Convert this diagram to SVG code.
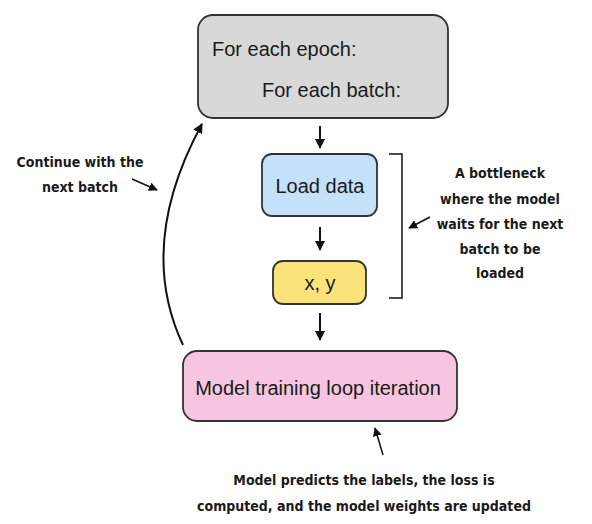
<svg xmlns="http://www.w3.org/2000/svg" width="592" height="524" viewBox="0 0 592 524">
<defs>
<style>
.box{stroke:#333333;stroke-width:1.8}
.t{font-family:"Liberation Sans",Arial,sans-serif;font-size:20px;fill:#1a1a1a}
.n{font-family:"DejaVu Sans Condensed","DejaVu Sans",sans-serif;font-weight:bold;font-size:14px;fill:#1a1a1a;text-anchor:middle}
.c{fill:none;stroke:#111;stroke-width:2}
.s{fill:none;stroke:#111;stroke-width:1.5}
</style>
<marker id="ah" viewBox="0 0 10 10" refX="9" refY="5" markerWidth="5" markerHeight="5" orient="auto" markerUnits="strokeWidth">
<path d="M0,0 L10,5 L0,10 z" fill="#111"/>
</marker>
<marker id="ahs" viewBox="0 0 10 10" refX="9" refY="5" markerWidth="6" markerHeight="6" orient="auto" markerUnits="strokeWidth">
<path d="M0,0 L10,5 L0,10 z" fill="#111"/>
</marker>
</defs>
<rect width="592" height="524" fill="#ffffff"/>
<g id="epoch">
<rect class="box" x="198" y="15" width="250" height="103" rx="15" fill="#d8d8d8"/>
<text class="t" x="212" y="56">For each epoch:</text>
<text class="t" x="262" y="97">For each batch:</text>
</g>
<g id="load">
<rect class="box" x="262" y="154" width="115" height="62" rx="10" fill="#c5e0f9"/>
<text class="t" x="320" y="193" text-anchor="middle">Load data</text>
</g>
<g id="xy">
<rect class="box" x="273" y="261" width="93" height="43" rx="10" fill="#f9e37a"/>
<text class="t" x="320" y="290" text-anchor="middle">x, y</text>
</g>
<g id="train">
<rect class="box" x="183" y="351" width="274" height="70" rx="14" fill="#f6c5e0"/>
<text class="t" x="318" y="395" text-anchor="middle">Model training loop iteration</text>
</g>
<g id="bracket">
<path class="s" d="M389,154 H402 V298 H389"/>
</g>
<g id="connectors">
<line class="c" x1="320" y1="126" x2="320" y2="148" marker-end="url(#ah)"/>
<line class="c" x1="320" y1="227" x2="320" y2="250" marker-end="url(#ah)"/>
<line class="c" x1="320" y1="313" x2="320" y2="340" marker-end="url(#ah)"/>
<path class="c" d="M183,345 Q136,245 202,124" marker-end="url(#ah)"/>
<line class="s" x1="132" y1="179" x2="157" y2="190" marker-end="url(#ahs)"/>
<line class="s" x1="430" y1="217" x2="409" y2="228" marker-end="url(#ahs)"/>
<line class="s" x1="383" y1="455" x2="375" y2="428" marker-end="url(#ahs)"/>
</g>
<g id="notes">
<text class="n" x="80" y="167">Continue with the</text>
<text class="n" x="80" y="192">next batch</text>
<text class="n" x="500" y="178">A bottleneck</text>
<text class="n" x="500" y="204">where the model</text>
<text class="n" x="500" y="229">waits for the next</text>
<text class="n" x="500" y="254">batch to be</text>
<text class="n" x="500" y="278">loaded</text>
<text class="n" x="364" y="485">Model predicts the labels, the loss is</text>
<text class="n" x="364" y="511">computed, and the model weights are updated</text>
</g>
</svg>
